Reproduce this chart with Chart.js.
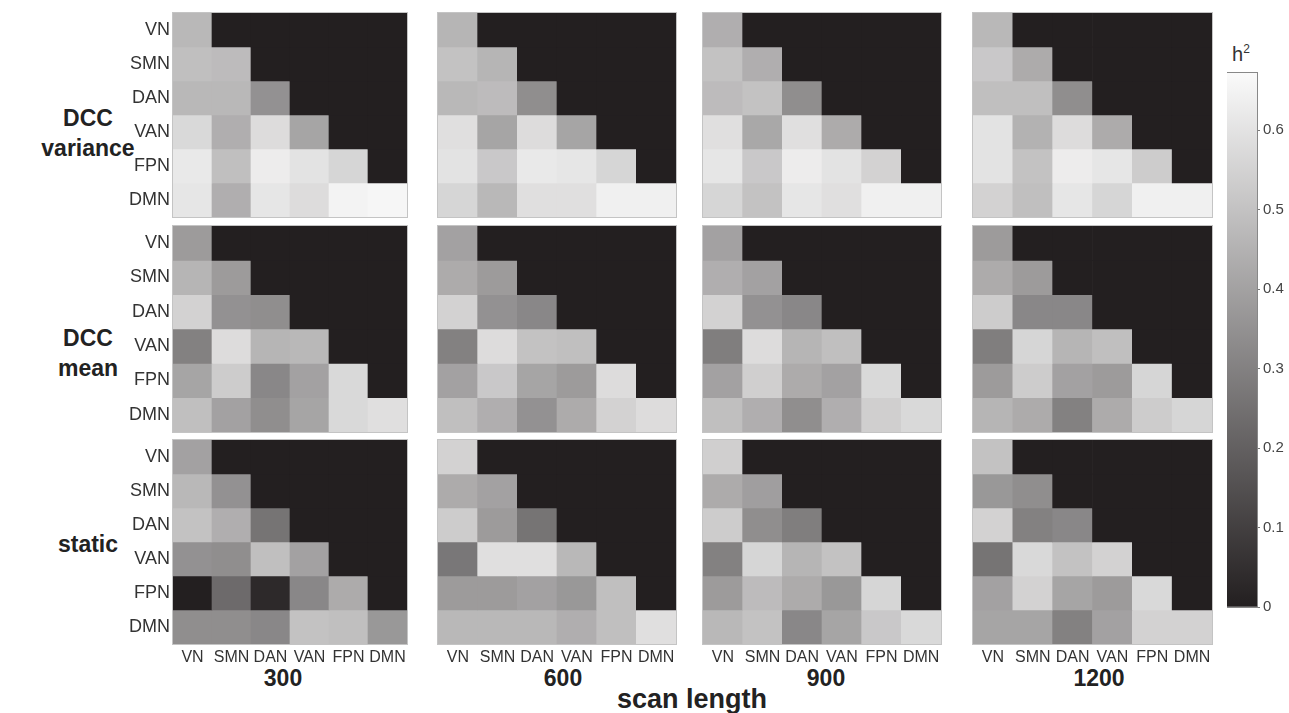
<!DOCTYPE html>
<html>
<head>
<meta charset="utf-8">
<script src="https://cdn.jsdelivr.net/npm/chart.js@4.4.0/dist/chart.umd.min.js"></script>
<style>
  body { margin: 0; background: #fff; width: 1289px; height: 713px; overflow: hidden; position: relative;
         font-family: "Liberation Sans", Arial, sans-serif; color: #222; }
  .box { position: absolute; }
  .title { position: absolute; font-weight: bold; white-space: nowrap; text-align: center; }
</style>
</head>
<body>
<div class="title" style="left:18px;top:103px;width:140px;font-size:23px;line-height:30px">DCC<br>variance</div>
<div class="title" style="left:18px;top:323px;width:140px;font-size:23px;line-height:30px">DCC<br>mean</div>
<div class="title" style="left:18px;top:529px;width:140px;font-size:23px;line-height:30px">static</div>

<div class="title" style="left:233px;top:667px;width:100px;font-size:23px;line-height:1">300</div>
<div class="title" style="left:513px;top:667px;width:100px;font-size:23px;line-height:1">600</div>
<div class="title" style="left:776px;top:667px;width:100px;font-size:23px;line-height:1">900</div>
<div class="title" style="left:1049px;top:667px;width:100px;font-size:23px;line-height:1">1200</div>
<div class="title" style="left:592px;top:686px;width:200px;font-size:27px;line-height:1">scan length</div>

<div class="title" style="left:1232px;top:43px;font-size:20px;line-height:1;font-weight:normal;color:#333">h<sup style="font-size:12px">2</sup></div>

<script>
// networks (rows top->bottom, columns left->right)
const networks = ['VN', 'SMN', 'DAN', 'VAN', 'FPN', 'DMN'];

// h2 lower triangle, row by row
const dccVar300 = [[0.47], [0.49, 0.48], [0.47, 0.47, 0.35], [0.57, 0.44, 0.58, 0.41], [0.62, 0.49, 0.63, 0.60, 0.56], [0.61, 0.44, 0.61, 0.58, 0.65, 0.66]];
const dccVar600 = [[0.46], [0.50, 0.46], [0.47, 0.48, 0.34], [0.59, 0.41, 0.58, 0.41], [0.60, 0.52, 0.62, 0.61, 0.56], [0.56, 0.47, 0.59, 0.59, 0.64, 0.64]];
const dccVar900 = [[0.44], [0.50, 0.44], [0.48, 0.50, 0.34], [0.59, 0.42, 0.59, 0.43], [0.61, 0.52, 0.63, 0.60, 0.55], [0.56, 0.50, 0.61, 0.59, 0.64, 0.64]];
const dccVar1200 = [[0.47], [0.52, 0.43], [0.49, 0.49, 0.34], [0.60, 0.45, 0.58, 0.43], [0.60, 0.50, 0.63, 0.61, 0.53], [0.55, 0.49, 0.61, 0.56, 0.64, 0.64]];

const dccMean300 = [[0.38], [0.46, 0.38], [0.55, 0.35, 0.34], [0.30, 0.58, 0.46, 0.47], [0.41, 0.53, 0.32, 0.40, 0.57], [0.49, 0.40, 0.34, 0.41, 0.57, 0.59]];
const dccMean600 = [[0.40], [0.43, 0.38], [0.55, 0.35, 0.32], [0.30, 0.58, 0.50, 0.49], [0.40, 0.52, 0.41, 0.38, 0.58], [0.49, 0.44, 0.35, 0.43, 0.55, 0.58]];
const dccMean900 = [[0.40], [0.44, 0.40], [0.55, 0.35, 0.32], [0.29, 0.58, 0.46, 0.49], [0.40, 0.54, 0.43, 0.40, 0.57], [0.49, 0.44, 0.34, 0.44, 0.54, 0.57]];
const dccMean1200 = [[0.38], [0.43, 0.38], [0.53, 0.32, 0.32], [0.29, 0.56, 0.46, 0.49], [0.38, 0.53, 0.40, 0.38, 0.56], [0.46, 0.43, 0.30, 0.43, 0.53, 0.56]];

const static300 = [[0.40], [0.47, 0.35], [0.50, 0.44, 0.26], [0.35, 0.34, 0.49, 0.40], [0.00, 0.23, 0.03, 0.32, 0.43], [0.34, 0.34, 0.32, 0.50, 0.49, 0.37]];
const static600 = [[0.55], [0.43, 0.40], [0.53, 0.38, 0.26], [0.27, 0.59, 0.59, 0.47], [0.38, 0.38, 0.40, 0.37, 0.49], [0.47, 0.47, 0.47, 0.44, 0.49, 0.59]];
const static900 = [[0.54], [0.43, 0.39], [0.53, 0.34, 0.29], [0.30, 0.56, 0.46, 0.50], [0.38, 0.48, 0.43, 0.37, 0.56], [0.47, 0.50, 0.32, 0.41, 0.52, 0.57]];
const static1200 = [[0.50], [0.37, 0.34], [0.55, 0.30, 0.32], [0.26, 0.57, 0.50, 0.55], [0.40, 0.55, 0.41, 0.38, 0.57], [0.41, 0.41, 0.30, 0.40, 0.55, 0.55]];

const colorbarTicks = [0, 0.1, 0.2, 0.3, 0.4, 0.5, 0.6];

const panels = [
  [dccVar300, dccVar600, dccVar900, dccVar1200],
  [dccMean300, dccMean600, dccMean900, dccMean1200],
  [static300, static600, static900, static1200]
];

// layout
const colLeft = [173, 438, 703, 973];
const colW = [234, 238, 238, 239];
const rowTop = [13, 226, 440];
const rowH = [204, 206, 204];
const YW = 60, XH = 26, PAD = 3;

// gray colormap, dark end as printed
const DARK = [35, 31, 32];
const LIGHT = [250, 250, 250];
const H2_MAX = 0.672;
const FONT = '"Liberation Sans", Arial, sans-serif';

function grayFor(v) {
  const t = Math.max(0, Math.min(1, v / H2_MAX));
  const c = DARK.map((d, i) => Math.round(d + (LIGHT[i] - d) * t));
  return `rgb(${c[0]},${c[1]},${c[2]})`;
}
const DARK_CSS = grayFor(0);

// thin box round the plot area
const framePlugin = {
  id: 'frame',
  afterDraw(chart, args, opts) {
    const { ctx, chartArea: a } = chart;
    ctx.save();
    ctx.strokeStyle = opts.color || '#c8c8c8';
    ctx.lineWidth = 1;
    ctx.strokeRect(a.left - 0.5, a.top - 0.5, a.width + 1, a.height + 1);
    ctx.restore();
  }
};
Chart.register(framePlugin);

// fixed axis size, no extra padding for end labels
function fixSize(prop, size) {
  return s => {
    s[prop] = size;
    s.paddingTop = 0; s.paddingBottom = 0; s.paddingLeft = 0; s.paddingRight = 0;
  };
}

function makePanel(mat, r, c) {
  const div = document.createElement('div');
  div.className = 'box';
  div.style.left = (colLeft[c] - YW) + 'px';
  div.style.top = (rowTop[r] - PAD) + 'px';
  div.style.width = (YW + colW[c] + PAD) + 'px';
  div.style.height = (PAD + rowH[r] + XH) + 'px';
  const canvas = document.createElement('canvas');
  div.appendChild(canvas);
  document.body.appendChild(div);

  const showY = c === 0;
  const showX = r === panels.length - 1;

  const datasets = networks.map((_, row) => ({
    data: networks.map(() => [row, row + 1]),
    backgroundColor: networks.map((_, col) => col <= row ? grayFor(mat[row][col]) : DARK_CSS),
    borderWidth: 0,
    grouped: false,
    barPercentage: 1,
    categoryPercentage: 1
  }));

  new Chart(canvas, {
    type: 'bar',
    data: { labels: networks, datasets },
    options: {
      responsive: true,
      maintainAspectRatio: false,
      animation: false,
      layout: { padding: { top: PAD, right: PAD, left: 0, bottom: 0 } },
      plugins: { legend: { display: false }, tooltip: { enabled: false }, frame: { color: '#c4c4c4' } },
      scales: {
        x: {
          grid: { display: false, drawTicks: false },
          border: { display: false },
          afterFit: fixSize('height', XH),
          ticks: { display: showX, padding: 4, maxRotation: 0, autoSkip: false, color: '#333', font: { size: 16, family: FONT } }
        },
        y: {
          min: 0, max: 6, reverse: true,
          afterBuildTicks: s => { s.ticks = networks.map((_, i) => ({ value: i + 0.5 })); },
          afterFit: fixSize('width', YW),
          grid: { display: false, drawTicks: false },
          border: { display: false },
          ticks: { display: showY, padding: 3, color: '#333', font: { size: 18, family: FONT }, callback: (v, i) => networks[i] }
        }
      }
    }
  });
}

panels.forEach((row, r) => row.forEach((mat, c) => makePanel(mat, r, c)));

// colour bar
(function () {
  const top = 73, bottom = 607, left = 1227, barW = 30, axisW = 42, pad = 10;
  const div = document.createElement('div');
  div.className = 'box';
  div.style.left = left + 'px';
  div.style.top = (top - pad) + 'px';
  div.style.width = (barW + axisW) + 'px';
  div.style.height = (bottom - top + 2 * pad) + 'px';
  const canvas = document.createElement('canvas');
  div.appendChild(canvas);
  document.body.appendChild(div);

  new Chart(canvas, {
    type: 'bar',
    data: {
      labels: [''],
      datasets: [{
        data: [[0, H2_MAX]],
        backgroundColor: ctx => {
          const ch = ctx.chart;
          const y = ch.scales.y;
          if (!y || !ch.chartArea) return DARK_CSS;
          const g = ch.ctx.createLinearGradient(0, y.getPixelForValue(0), 0, y.getPixelForValue(H2_MAX));
          g.addColorStop(0, grayFor(0));
          g.addColorStop(1, grayFor(H2_MAX));
          return g;
        },
        borderWidth: 0,
        barPercentage: 1,
        categoryPercentage: 1
      }]
    },
    options: {
      responsive: true,
      maintainAspectRatio: false,
      animation: false,
      layout: { padding: { top: pad, bottom: pad, left: 0, right: 0 } },
      plugins: { legend: { display: false }, tooltip: { enabled: false }, frame: { color: '#888' } },
      scales: {
        x: { display: false },
        y: {
          position: 'right',
          min: 0, max: H2_MAX,
          afterBuildTicks: s => { s.ticks = colorbarTicks.map(v => ({ value: v })); },
          afterFit: fixSize('width', axisW),
          grid: { display: true, drawOnChartArea: false, drawTicks: true, tickLength: 3, color: '#777' },
          border: { display: false },
          ticks: { padding: 3, color: '#444', font: { size: 15, family: FONT }, callback: v => v === 0 ? '0' : v.toFixed(1) }
        }
      }
    }
  });
})();
</script>
</body>
</html>
